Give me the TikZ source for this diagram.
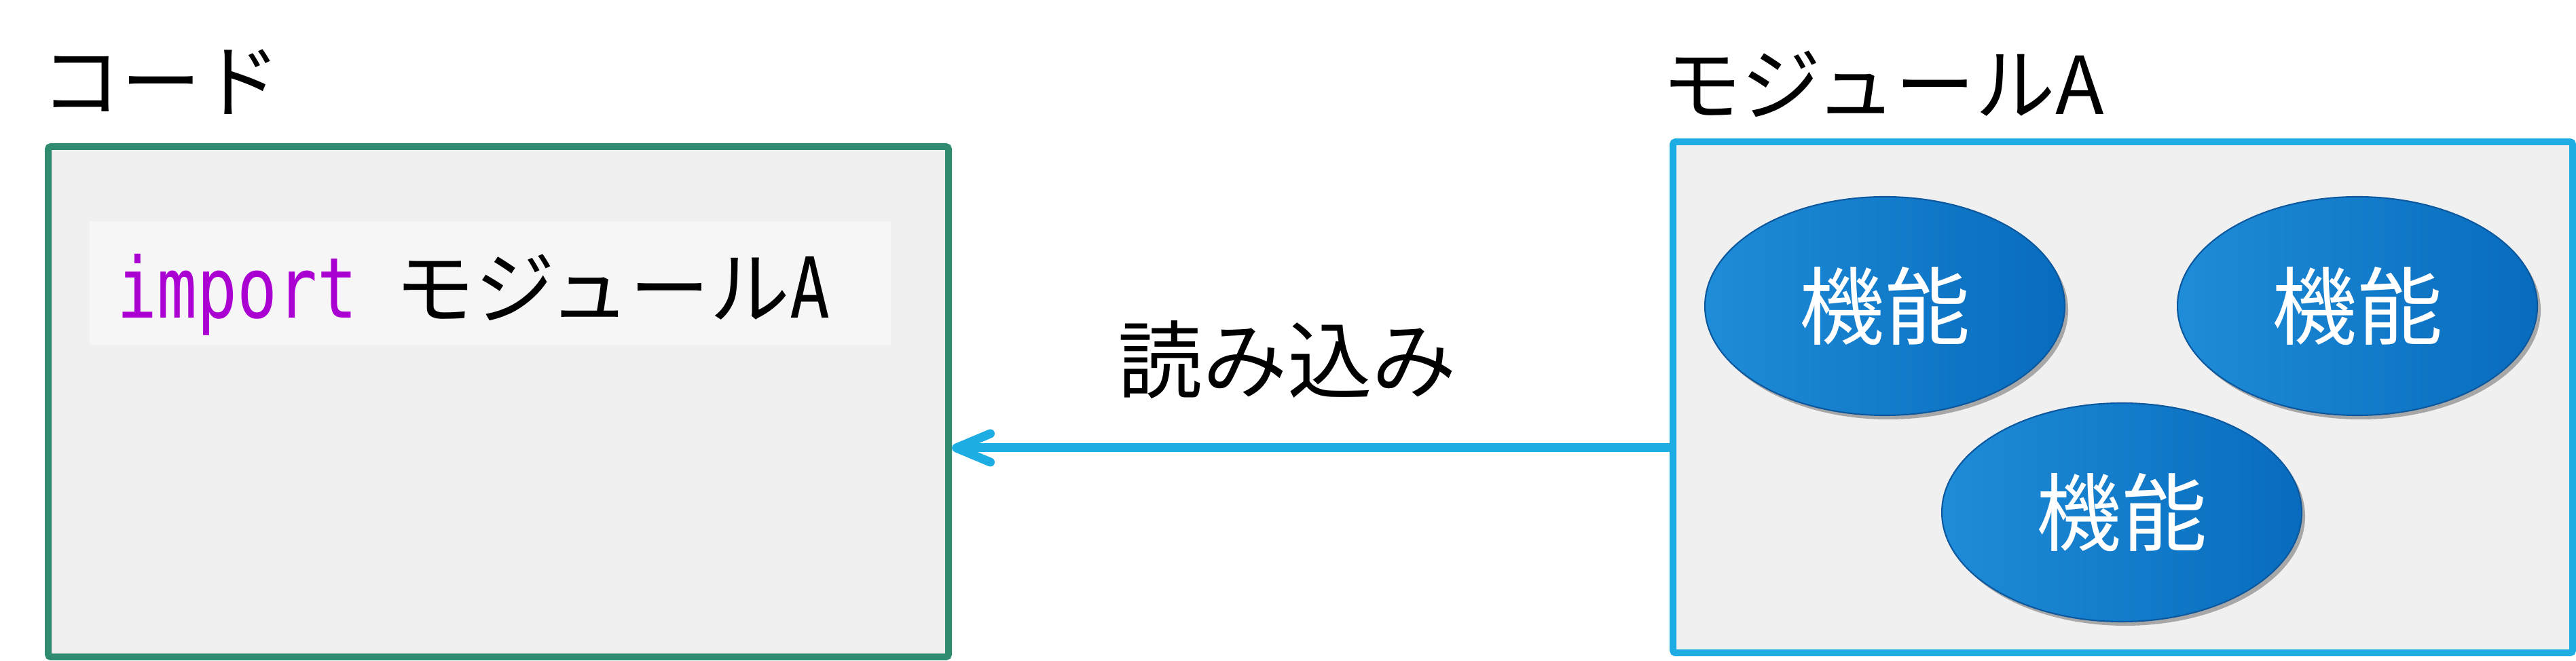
\documentclass[tikz,border=0pt]{standalone}
\usepackage{fontspec}
\setmainfont{Noto Sans CJK JP}
\newfontfamily\codefont{DejaVu Sans Mono}
\usetikzlibrary{arrows.meta,shapes.geometric,shadows}

\definecolor{codegreen}{RGB}{49,139,112}
\definecolor{modblue}{RGB}{30,173,227}
\definecolor{boxgray}{RGB}{240,240,240}
\definecolor{linegray}{RGB}{246,246,246}
\definecolor{keyword}{RGB}{170,0,210}
\definecolor{funcleft}{RGB}{30,140,216}
\definecolor{funcright}{RGB}{8,108,190}
\definecolor{funcrim}{RGB}{12,88,158}

\newcommand{\codelatin}[1]{\scalebox{0.83}[1.05]{\codefont #1}}

\begin{document}
\begin{tikzpicture}[
	title/.style = {font=\fontsize{33.5}{40}\selectfont, inner sep=0},
	panel/.style = {draw, line width=0.1cm, fill=boxgray, rounded corners=0.04cm,
		minimum width=13.26cm, minimum height=7.52cm, inner sep=0},
	func/.style = {ellipse, draw=funcrim, line width=0.6pt, left color=funcleft, right color=funcright,
		minimum width=5.3cm, minimum height=3.22cm, inner sep=0, text=white,
		font=\fontsize{35.6}{42}\selectfont,
		drop shadow={shadow xshift=0.05cm, shadow yshift=-0.06cm, opacity=0.3, fill=black}},
	readarrow/.style = {draw=modblue, line width=0.13cm,
		-{Straight Barb[round, length=0.5cm, width=0.42cm]}}
	]
	\useasboundingbox (0,0) rectangle (37.94,-9.74);

	% code side
	\node[title] (codetitle) at (2.37,-1.21) {コード};
	\node[panel, draw=codegreen] (codebox) at (7.34,-5.92) {};
	\node[fill=linegray, minimum width=11.80cm, minimum height=1.82cm, inner sep=0] (codeline) at (7.22,-4.17) {};
	\node[anchor=base west, inner sep=0, font=\fontsize{33.6}{40}\selectfont] (codetext) at (1.72,-4.69)
		{\textcolor{keyword}{\codelatin{import}}\hspace{0.55cm}モジュール\codelatin{A}};

	% module side
	\node[title] (modtitle) at (27.73,-1.24) {モジュールA};
	\node[panel, draw=modblue, minimum width=13.25cm, minimum height=7.53cm] (modbox) at (31.265,-5.855) {};
	\node[func] (funcA) at (27.76,-4.51) {機能};
	\node[func] (funcB) at (34.72,-4.51) {機能};
	\node[func] (funcC) at (31.25,-7.55) {機能};

	% import arrow
	\draw[readarrow] (modbox.west |- 0,-6.60) -- (codebox.east |- 0,-6.60);
	\node[title, font=\fontsize{35.5}{42}\selectfont] (readlabel) at (18.96,-5.30) {読み込み};
\end{tikzpicture}
\end{document}
